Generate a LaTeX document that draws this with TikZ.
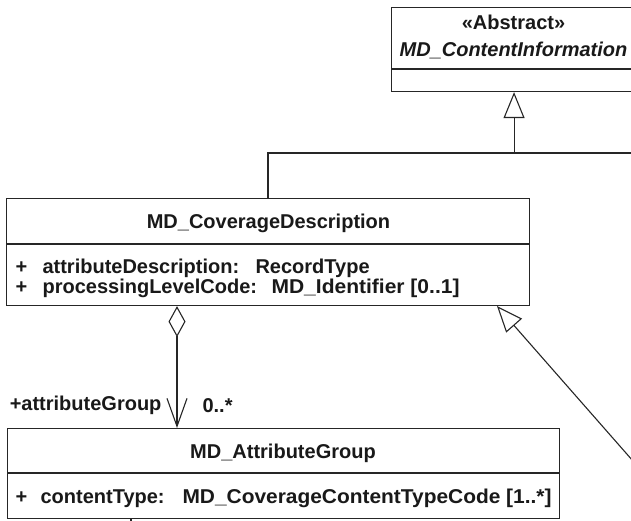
\documentclass[tikz,border=0pt]{standalone}
\usepackage{graphicx}
\usepackage{fontspec}
\setmainfont{Liberation Sans}
\usetikzlibrary{arrows.meta}
\begin{document}
\begin{tikzpicture}[x=1pt,y=-1pt,
  line width=1.1pt,
  color=black!85,
  umlbox/.style={draw, rectangle, anchor=north west, inner sep=0pt, fill=white},
  lbl/.style={font=\fontsize{20}{20}\selectfont\bfseries, inner sep=0pt, text=black!90},
  gen/.style={-{Triangle[open, length=26pt, width=21pt, fill=white]}},
  aggr/.style={{Diamond[open, length=31pt, width=17pt, fill=white]}-{Straight Barb[length=28pt, width=20pt]}}
]
\clip (0,0) rectangle (631,521);

% class boxes
\node[umlbox, minimum width=245pt, minimum height=84pt] (abs) at (391,7) {};
\node[umlbox, minimum width=523pt, minimum height=107pt] (cov) at (6,198) {};
\node[umlbox, minimum width=552pt, minimum height=90pt] (grp) at (7,428) {};

% compartment dividers
\draw (abs.west |- 0,69) -- (abs.east |- 0,69);
\draw (cov.west |- 0,244) -- (cov.east |- 0,244);
\draw (grp.west |- 0,473) -- (grp.east |- 0,473);

% MD_ContentInformation
\node[lbl, anchor=base] (absstereo) at (513.5,30) {«Abstract»};
\node[lbl, anchor=base, font=\fontsize{20}{20}\selectfont\bfseries\itshape] (absname) at (513.5,57) {MD\_ContentInformation};

% MD_CoverageDescription
\node[lbl, anchor=base] (covname) at (268.5,229) {MD\_CoverageDescription};
\node[lbl, anchor=base west] (covp1) at (15,273) {+};
\node[lbl, anchor=base west] (cova1) at (42,273) {attributeDescription:};
\node[lbl, anchor=base west] (covt1) at (255,273) {RecordType};
\node[lbl, anchor=base west] (covp2) at (15,293) {+};
\node[lbl, anchor=base west] (cova2) at (42,293) {processingLevelCode:};
\node[lbl, anchor=base west] (covt2) at (271,293) {\resizebox{188pt}{\height}{MD\_Identifier [0..1]}};

% MD_AttributeGroup
\node[lbl, anchor=base] (grpname) at (283,458) {MD\_AttributeGroup};
\node[lbl, anchor=base west] (grpp1) at (15,503) {+};
\node[lbl, anchor=base west] (grpa1) at (40,503) {contentType:};
\node[lbl, anchor=base west] (grpt1) at (182,503) {\resizebox{369pt}{\height}{MD\_CoverageContentTypeCode [1..*]}};

% generalization tree towards MD_ContentInformation
\coordinate (treex) at (268,0);
\coordinate (treey) at (0,153);
\coordinate (treeright) at (640,153);
\draw (cov.north -| treex) |- (treeright);
\draw[gen] (abs.south |- treey) -- (abs.south);

% generalization coming in from the right
\coordinate (genfar) at (640,469);
\coordinate (genx) at (497,0);
\draw[gen] (genfar) -- (cov.south -| genx);

% aggregation MD_CoverageDescription -> MD_AttributeGroup
\coordinate (aggx) at (177,0);
\draw[aggr] (cov.south -| aggx) -- (grp.north -| aggx);
\node[lbl, anchor=base east] (rolename) at (162,410) {+attributeGroup};
\node[lbl, anchor=base west] (mult) at (202,412) {0..*};

% association leaving MD_AttributeGroup downwards
\coordinate (stubx) at (131,0);
\coordinate (stubend) at (131,530);
\draw (grp.south -| stubx) -- (stubend);
\end{tikzpicture}
\end{document}
